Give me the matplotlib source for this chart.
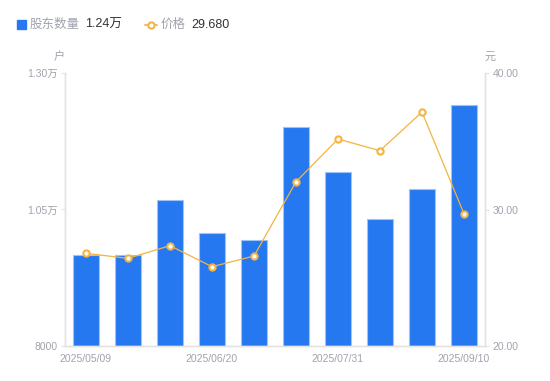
import matplotlib
matplotlib.use("Agg")
import matplotlib.pyplot as plt
from matplotlib.patches import Rectangle
from matplotlib.lines import Line2D

plt.rcParams["font.family"] = ["Liberation Sans", "Noto Sans CJK SC", "DejaVu Sans"]

# --- data ---
dates = ["2025/05/09", "2025/05/23", "2025/06/06", "2025/06/20", "2025/06/30",
         "2025/07/10", "2025/07/31", "2025/08/15", "2025/08/29", "2025/09/10"]
holders = [9670, 9660, 10670, 10070, 9940, 12010, 11190, 10330, 10880, 12410]
price = [26.79, 26.42, 27.35, 25.81, 26.59, 32.03, 35.16, 34.31, 37.14, 29.68]
shown_ticks = [0, 3, 6, 9]

BLUE = "#2678F0"
BLUE_EDGE = "#9EC3F7"
ORANGE = "#F5B340"
GRAY = "#A0A3AE"
AXIS = "#E3E3E3"
DARK = "#333333"

fig = plt.figure(figsize=(5.5, 3.81), dpi=100, facecolor="white")
ax = fig.add_axes([65 / 550, 35 / 381, 420 / 550, 273 / 381])
ax2 = ax.twinx()

x = list(range(len(dates)))
ax.bar(x, holders, width=0.6, color=BLUE, edgecolor=BLUE_EDGE, linewidth=0.8, zorder=2)
ax.set_xlim(-0.5, len(dates) - 0.5)
ax.set_ylim(8000, 13000)
ax.set_yticks([8000, 10500, 13000])
ax.set_yticklabels(["8000", "1.05万", "1.30万"])
ax.set_xticks(shown_ticks)
ax.set_xticklabels([dates[i] for i in shown_ticks])

ax2.plot(x, price, color=ORANGE, linewidth=0.9, marker="o", markersize=4.5,
         markerfacecolor="white", markeredgecolor=ORANGE, markeredgewidth=1.5, zorder=3)
ax2.set_ylim(20, 40)
ax2.set_yticks([20, 30, 40])
ax2.set_yticklabels([f"{v:.2f}" for v in [20, 30, 40]])

for a in (ax, ax2):
    a.spines["top"].set_visible(False)
    for side in ("left", "right", "bottom"):
        a.spines[side].set_color(AXIS)
        a.spines[side].set_linewidth(1)
    a.tick_params(colors=GRAY, labelsize=7.5, length=3, width=0.8)
    a.tick_params(axis="y", color=AXIS, labelcolor=GRAY, pad=2.5)
ax.tick_params(axis="x", length=0, pad=6)
ax2.tick_params(axis="x", length=0)

fig.text(59 / 550, 1 - 57 / 381, "户", color=GRAY, fontsize=8, ha="center", va="center")
fig.text(490 / 550, 1 - 57 / 381, "元", color=GRAY, fontsize=8, ha="center", va="center")

# legend drawn by hand
fig.patches.append(Rectangle((17 / 550, 1 - 29 / 381), 9 / 550, 9 / 381,
                             transform=fig.transFigure, color=BLUE))
fig.text(30 / 550, 1 - 24.5 / 381, "股东数量", color=GRAY, fontsize=9, va="center")
fig.text(85 / 550, 1 - 24.5 / 381, "1.24万", color=DARK, fontsize=9, va="center")
fig.lines.append(Line2D([145 / 550, 157 / 550], [1 - 24.5 / 381] * 2, transform=fig.transFigure,
                        color=ORANGE, linewidth=1.2))
fig.lines.append(Line2D([151 / 550], [1 - 24.5 / 381], transform=fig.transFigure,
                        color=ORANGE, marker="o", markersize=4.5, markerfacecolor="white",
                        markeredgecolor=ORANGE, markeredgewidth=1.5, linestyle="none"))
fig.text(161 / 550, 1 - 24.5 / 381, "价格", color=GRAY, fontsize=9, va="center")
fig.text(191 / 550, 1 - 24.5 / 381, f"{price[-1]:.3f}", color=DARK, fontsize=9, va="center")

fig.savefig("out.png", dpi=100, facecolor="white")
